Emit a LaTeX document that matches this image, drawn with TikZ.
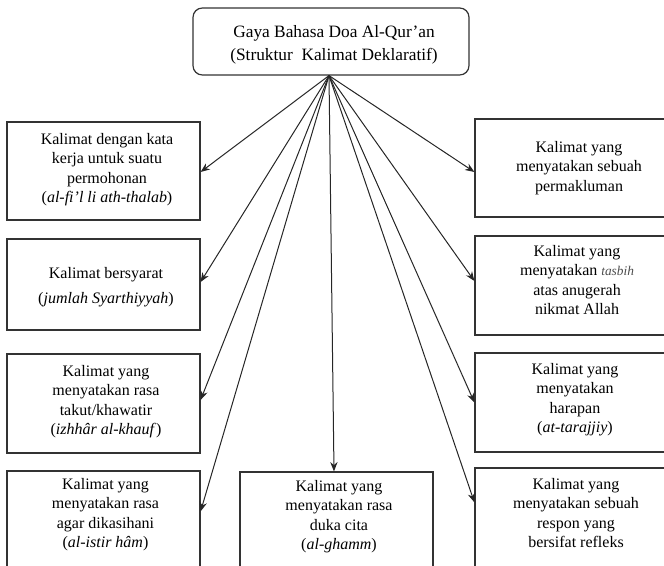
\documentclass[tikz,border=0pt]{standalone}
\usepackage{fontspec}
\setmainfont{Liberation Serif}
\usetikzlibrary{arrows.meta,calc}
\begin{document}
\begin{tikzpicture}[x=0.75pt,y=-0.75pt,
  box/.style={draw=black!80,line width=0.9pt,rectangle,inner sep=0pt},
  txt/.style={align=center,inner sep=0pt,font=\fontsize{12}{14.5}\selectfont},
  link/.style={draw=black!85,line width=0.75pt,-{Stealth[length=7pt,width=5.5pt]}}]
\useasboundingbox (0,0) rectangle (664,566);

% title box
\node[box,rounded corners=7pt,minimum width=207pt,minimum height=50.25pt] (top) at (331,41.5) {};
\node[txt,font=\fontsize{13}{17}\selectfont] (toptxt) at (334,45) {Gaya Bahasa Doa Al-Qur'an\\(Struktur\ \ Kalimat Deklaratif)};

% left column
\node[box,minimum width=144.75pt,minimum height=73.5pt] (l1) at (103.5,171) {};
\node[box,minimum width=144.75pt,minimum height=68.25pt] (l2) at (103.5,284.5) {};
\node[box,minimum width=144.75pt,minimum height=74.25pt] (l3) at (103.5,403.5) {};
\node[box,minimum width=144.75pt,minimum height=78pt] (l4) at (103.5,523) {};

\node[txt,anchor=north] (l1t) at (107,133) {Kalimat dengan kata\\kerja untuk suatu\\permohonan\\(\textit{al-fi'l li ath-thalab})};
\node[txt] (l2t) at (106,287) {Kalimat bersyarat\\[4pt](\textit{jumlah Syarthiyyah})};
\node[txt,anchor=north] (l3t) at (106,365) {Kalimat yang\\menyatakan rasa\\takut/khawatir\\(\textit{izhhâr al-khauf})};
\node[txt,anchor=north] (l4t) at (105.5,478) {Kalimat yang\\menyatakan rasa\\agar dikasihani\\(\textit{al-istir hâm})};

% middle box
\node[box,minimum width=144.75pt,minimum height=78pt] (c) at (336.5,524) {};
\node[txt,anchor=north] (ct) at (339,480) {Kalimat yang\\menyatakan rasa\\duka cita\\(\textit{al-ghamm})};

% right column
\node[box,minimum width=147.75pt,minimum height=73.5pt] (r1) at (573.5,168) {};
\node[box,minimum width=147.75pt,minimum height=74.25pt] (r2) at (573.5,285.5) {};
\node[box,minimum width=147.75pt,minimum height=74.25pt] (r3) at (573.5,402.5) {};
\node[box,minimum width=147.75pt,minimum height=78pt] (r4) at (573.5,520) {};

\node[txt] (r1t) at (579,168) {Kalimat yang\\menyatakan sebuah\\permakluman};
\node[txt,anchor=north] (r2t) at (577,245) {Kalimat yang\\menyatakan {\itshape\fontsize{10}{10}\selectfont\color{black!70}tasbih}\\atas anugerah\\nikmat Allah};
\node[txt,anchor=north] (r3t) at (575,363) {Kalimat yang\\menyatakan\\harapan\\(\textit{at-tarajjiy})};
\node[txt,anchor=north] (r4t) at (576,478) {Kalimat yang\\menyatakan sebuah\\respon yang\\bersifat refleks};

% connectors fanning out from the title box
\coordinate (hub) at ($(top.south)+(-2,0)$);
\draw[link] (hub) -- ($(l1.east)+(0,1)$);
\draw[link] (hub) -- ($(l2.east)+(0,-2.5)$);
\draw[link] (hub) -- ($(l3.east)+(0,-3.5)$);
\draw[link] (hub) -- ($(l4.north east)+(0,41)$);
\draw[link] (hub) -- ($(c.north)+(-2.5,0)$);
\draw[link] (hub) -- ($(r1.west)+(0,4)$);
\draw[link] (hub) -- ($(r2.west)+(0,-4.5)$);
\draw[link] (hub) -- ($(r3.west)+(0,0)$);
\draw[link] (hub) -- ($(r4.north west)+(0,35)$);
\end{tikzpicture}
\end{document}
